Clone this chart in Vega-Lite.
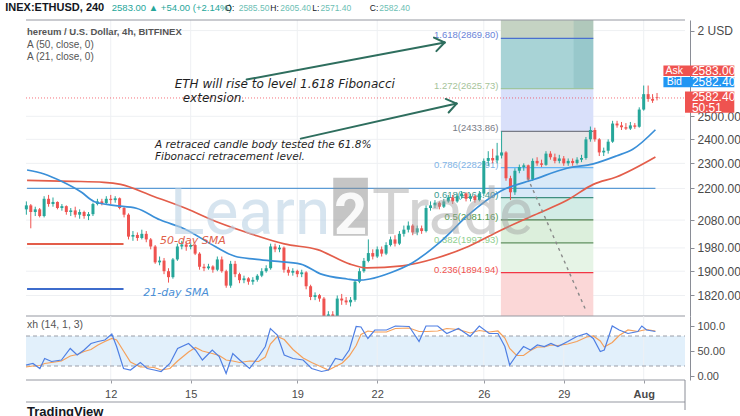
{
"$schema":"https://vega.github.io/schema/vega-lite/v6.json",
"width":740,"height":416,"autosize":{"type":"none"},"padding":0,"background":"#ffffff",
"config":{"view":{"stroke":null},"font":"Liberation Sans","text":{"font":"Liberation Sans"}},
"datasets":{
"candles":[
{"d":8.833,"o":2120,"h":2150,"l":2100,"c":2135},{"d":9,"o":2135,"h":2140,"l":2050,"c":2110},{"d":9.167,"o":2110,"h":2130,"l":2095,"c":2120},{"d":9.333,"o":2120,"h":2125,"l":2090,"c":2095},{"d":9.5,"o":2095,"h":2170,"l":2090,"c":2160},{"d":9.667,"o":2160,"h":2175,"l":2130,"c":2140},{"d":9.833,"o":2140,"h":2165,"l":2130,"c":2148},{"d":10,"o":2148,"h":2150,"l":2120,"c":2125},{"d":10.167,"o":2125,"h":2140,"l":2115,"c":2132},{"d":10.333,"o":2132,"h":2135,"l":2100,"c":2110},{"d":10.5,"o":2110,"h":2125,"l":2095,"c":2116},{"d":10.667,"o":2116,"h":2130,"l":2090,"c":2100},{"d":10.833,"o":2100,"h":2120,"l":2085,"c":2110},{"d":11,"o":2110,"h":2115,"l":2085,"c":2095},{"d":11.167,"o":2095,"h":2110,"l":2080,"c":2102},{"d":11.333,"o":2102,"h":2145,"l":2095,"c":2140},{"d":11.5,"o":2140,"h":2160,"l":2135,"c":2150},{"d":11.667,"o":2150,"h":2160,"l":2135,"c":2144},{"d":11.833,"o":2144,"h":2170,"l":2140,"c":2160},{"d":12,"o":2160,"h":2175,"l":2140,"c":2155},{"d":12.167,"o":2155,"h":2170,"l":2145,"c":2162},{"d":12.333,"o":2162,"h":2165,"l":2120,"c":2125},{"d":12.5,"o":2125,"h":2130,"l":2090,"c":2100},{"d":12.667,"o":2100,"h":2105,"l":2010,"c":2020},{"d":12.833,"o":2020,"h":2040,"l":2005,"c":2026},{"d":13,"o":2026,"h":2035,"l":2005,"c":2015},{"d":13.167,"o":2015,"h":2045,"l":2010,"c":2030},{"d":13.333,"o":2030,"h":2040,"l":2000,"c":2010},{"d":13.5,"o":2010,"h":2015,"l":1975,"c":1985},{"d":13.667,"o":1985,"h":1990,"l":1925,"c":1930},{"d":13.833,"o":1930,"h":1950,"l":1920,"c":1936},{"d":14,"o":1936,"h":1945,"l":1890,"c":1900},{"d":14.167,"o":1900,"h":1910,"l":1862,"c":1880},{"d":14.333,"o":1880,"h":1945,"l":1875,"c":1940},{"d":14.5,"o":1940,"h":1995,"l":1935,"c":1985},{"d":14.667,"o":1985,"h":2005,"l":1975,"c":1992},{"d":14.833,"o":1992,"h":2000,"l":1970,"c":1984},{"d":15,"o":1984,"h":2000,"l":1975,"c":1990},{"d":15.167,"o":1990,"h":1995,"l":1955,"c":1960},{"d":15.333,"o":1960,"h":1965,"l":1905,"c":1915},{"d":15.5,"o":1915,"h":1925,"l":1900,"c":1910},{"d":15.667,"o":1910,"h":1925,"l":1905,"c":1916},{"d":15.833,"o":1916,"h":1920,"l":1895,"c":1905},{"d":16,"o":1905,"h":1950,"l":1900,"c":1940},{"d":16.167,"o":1940,"h":1950,"l":1895,"c":1900},{"d":16.333,"o":1900,"h":1905,"l":1845,"c":1852},{"d":16.5,"o":1852,"h":1935,"l":1845,"c":1925},{"d":16.667,"o":1925,"h":1935,"l":1880,"c":1890},{"d":16.833,"o":1890,"h":1895,"l":1860,"c":1870},{"d":17,"o":1870,"h":1885,"l":1860,"c":1876},{"d":17.167,"o":1876,"h":1880,"l":1855,"c":1865},{"d":17.333,"o":1865,"h":1880,"l":1855,"c":1871},{"d":17.5,"o":1871,"h":1890,"l":1865,"c":1885},{"d":17.667,"o":1885,"h":1910,"l":1880,"c":1900},{"d":17.833,"o":1900,"h":1920,"l":1895,"c":1910},{"d":18,"o":1910,"h":1995,"l":1905,"c":1985},{"d":18.167,"o":1985,"h":1995,"l":1965,"c":1975},{"d":18.333,"o":1975,"h":1990,"l":1965,"c":1981},{"d":18.5,"o":1981,"h":1985,"l":1895,"c":1905},{"d":18.667,"o":1905,"h":1915,"l":1885,"c":1895},{"d":18.833,"o":1895,"h":1910,"l":1885,"c":1901},{"d":19,"o":1901,"h":1905,"l":1880,"c":1890},{"d":19.167,"o":1890,"h":1905,"l":1880,"c":1896},{"d":19.333,"o":1896,"h":1900,"l":1840,"c":1850},{"d":19.5,"o":1850,"h":1855,"l":1805,"c":1815},{"d":19.667,"o":1815,"h":1830,"l":1805,"c":1821},{"d":19.833,"o":1821,"h":1825,"l":1800,"c":1810},{"d":20,"o":1810,"h":1815,"l":1720,"c":1745},{"d":20.167,"o":1745,"h":1770,"l":1730,"c":1760},{"d":20.333,"o":1760,"h":1770,"l":1740,"c":1754},{"d":20.5,"o":1754,"h":1820,"l":1750,"c":1810},{"d":20.667,"o":1810,"h":1825,"l":1790,"c":1804},{"d":20.833,"o":1804,"h":1815,"l":1790,"c":1798},{"d":21,"o":1798,"h":1815,"l":1785,"c":1806},{"d":21.167,"o":1806,"h":1870,"l":1800,"c":1865},{"d":21.333,"o":1865,"h":1910,"l":1860,"c":1900},{"d":21.5,"o":1900,"h":1945,"l":1895,"c":1935},{"d":21.667,"o":1935,"h":2010,"l":1930,"c":1962},{"d":21.833,"o":1962,"h":1975,"l":1940,"c":1950},{"d":22,"o":1950,"h":1985,"l":1945,"c":1975},{"d":22.167,"o":1975,"h":1985,"l":1950,"c":1960},{"d":22.333,"o":1960,"h":2000,"l":1955,"c":1990},{"d":22.5,"o":1990,"h":2020,"l":1985,"c":2010},{"d":22.667,"o":2010,"h":2025,"l":1985,"c":1995},{"d":22.833,"o":1995,"h":2040,"l":1990,"c":2030},{"d":23,"o":2030,"h":2060,"l":2020,"c":2045},{"d":23.167,"o":2045,"h":2075,"l":2035,"c":2060},{"d":23.333,"o":2060,"h":2065,"l":2025,"c":2035},{"d":23.5,"o":2035,"h":2060,"l":2025,"c":2050},{"d":23.667,"o":2050,"h":2060,"l":2030,"c":2040},{"d":23.833,"o":2040,"h":2135,"l":2035,"c":2125},{"d":24,"o":2125,"h":2150,"l":2115,"c":2135},{"d":24.167,"o":2135,"h":2155,"l":2125,"c":2145},{"d":24.333,"o":2145,"h":2150,"l":2120,"c":2130},{"d":24.5,"o":2130,"h":2160,"l":2125,"c":2150},{"d":24.667,"o":2150,"h":2175,"l":2145,"c":2165},{"d":24.833,"o":2165,"h":2175,"l":2140,"c":2150},{"d":25,"o":2150,"h":2180,"l":2145,"c":2170},{"d":25.167,"o":2170,"h":2190,"l":2160,"c":2180},{"d":25.333,"o":2180,"h":2185,"l":2150,"c":2160},{"d":25.5,"o":2160,"h":2180,"l":2150,"c":2170},{"d":25.667,"o":2170,"h":2175,"l":2145,"c":2155},{"d":25.833,"o":2155,"h":2190,"l":2150,"c":2180},{"d":26,"o":2180,"h":2320,"l":2170,"c":2310},{"d":26.167,"o":2310,"h":2350,"l":2290,"c":2322},{"d":26.333,"o":2322,"h":2360,"l":2300,"c":2312},{"d":26.5,"o":2312,"h":2385,"l":2300,"c":2332},{"d":26.667,"o":2332,"h":2434,"l":2320,"c":2345},{"d":26.833,"o":2345,"h":2350,"l":2230,"c":2240},{"d":27,"o":2240,"h":2250,"l":2155,"c":2185},{"d":27.167,"o":2185,"h":2280,"l":2175,"c":2270},{"d":27.333,"o":2270,"h":2295,"l":2260,"c":2285},{"d":27.5,"o":2285,"h":2300,"l":2270,"c":2292},{"d":27.667,"o":2292,"h":2295,"l":2225,"c":2235},{"d":27.833,"o":2235,"h":2320,"l":2230,"c":2310},{"d":28,"o":2310,"h":2325,"l":2290,"c":2300},{"d":28.167,"o":2300,"h":2315,"l":2285,"c":2294},{"d":28.333,"o":2294,"h":2350,"l":2290,"c":2340},{"d":28.5,"o":2340,"h":2350,"l":2315,"c":2325},{"d":28.667,"o":2325,"h":2340,"l":2300,"c":2310},{"d":28.833,"o":2310,"h":2335,"l":2300,"c":2320},{"d":29,"o":2320,"h":2330,"l":2290,"c":2300},{"d":29.167,"o":2300,"h":2320,"l":2290,"c":2310},{"d":29.333,"o":2310,"h":2320,"l":2290,"c":2301},{"d":29.5,"o":2301,"h":2325,"l":2295,"c":2315},{"d":29.667,"o":2315,"h":2335,"l":2305,"c":2322},{"d":29.833,"o":2322,"h":2410,"l":2315,"c":2400},{"d":30,"o":2400,"h":2455,"l":2390,"c":2440},{"d":30.167,"o":2440,"h":2450,"l":2390,"c":2400},{"d":30.333,"o":2400,"h":2405,"l":2330,"c":2345},{"d":30.5,"o":2345,"h":2365,"l":2330,"c":2352},{"d":30.667,"o":2352,"h":2400,"l":2340,"c":2390},{"d":30.833,"o":2390,"h":2480,"l":2385,"c":2468},{"d":31,"o":2468,"h":2480,"l":2450,"c":2460},{"d":31.167,"o":2460,"h":2475,"l":2440,"c":2452},{"d":31.333,"o":2452,"h":2470,"l":2440,"c":2446},{"d":31.5,"o":2446,"h":2475,"l":2440,"c":2460},{"d":31.667,"o":2460,"h":2470,"l":2445,"c":2454},{"d":31.833,"o":2454,"h":2540,"l":2450,"c":2530},{"d":32,"o":2530,"h":2640,"l":2525,"c":2600},{"d":32.167,"o":2600,"h":2640,"l":2565,"c":2578},{"d":32.333,"o":2578,"h":2600,"l":2560,"c":2570},{"d":32.5,"o":2585.5,"h":2605.4,"l":2571.4,"c":2582.4}
],
"sma21":[{"d":8.86,"v":2273},{"d":9.5,"v":2257},{"d":10.15,"v":2228},{"d":10.89,"v":2186},{"d":11.37,"v":2150},{"d":12.11,"v":2135},{"d":12.96,"v":2124},{"d":13.85,"v":2081},{"d":14.81,"v":2046},{"d":15.92,"v":1985},{"d":16.66,"v":1951},{"d":17.4,"v":1941},{"d":18.14,"v":1934},{"d":19.13,"v":1924},{"d":19.87,"v":1891},{"d":20.87,"v":1874},{"d":21.3,"v":1870},{"d":21.72,"v":1874},{"d":22.5,"v":1895},{"d":23.31,"v":1928},{"d":24.42,"v":2006},{"d":25.42,"v":2099},{"d":26.64,"v":2190},{"d":27.9,"v":2236},{"d":29.12,"v":2280},{"d":30.11,"v":2298},{"d":30.97,"v":2330},{"d":31.59,"v":2358},{"d":32.44,"v":2441}],
"sma50":[{"d":8.86,"v":2232},{"d":10.52,"v":2228},{"d":11.74,"v":2224},{"d":12.37,"v":2216},{"d":13.59,"v":2170},{"d":14.81,"v":2124},{"d":16.07,"v":2070},{"d":17.29,"v":2029},{"d":18.51,"v":1994},{"d":19.76,"v":1974},{"d":20.98,"v":1924},{"d":21.61,"v":1911},{"d":22.94,"v":1918},{"d":24.2,"v":1944},{"d":25.42,"v":1985},{"d":26.64,"v":2043},{"d":27.9,"v":2099},{"d":29.12,"v":2154},{"d":30.11,"v":2216},{"d":30.97,"v":2245},{"d":32.44,"v":2326}],
"stoch":[{"d":8.82,"k":22,"dv":18},{"d":9.08,"k":25,"dv":20},{"d":9.34,"k":15,"dv":21},{"d":9.52,"k":35,"dv":25},{"d":9.78,"k":29,"dv":27},{"d":10.15,"k":32,"dv":30},{"d":10.48,"k":55,"dv":40},{"d":10.74,"k":42,"dv":43},{"d":11,"k":52,"dv":49},{"d":11.26,"k":65,"dv":53},{"d":11.52,"k":69,"dv":62},{"d":11.78,"k":72,"dv":69},{"d":12.04,"k":84,"dv":75},{"d":12.22,"k":59,"dv":72},{"d":12.48,"k":15,"dv":50},{"d":12.74,"k":12,"dv":28},{"d":13.11,"k":27,"dv":18},{"d":13.37,"k":15,"dv":18},{"d":13.63,"k":12,"dv":17},{"d":13.89,"k":9,"dv":12},{"d":14.22,"k":25,"dv":15},{"d":14.51,"k":55,"dv":30},{"d":14.92,"k":65,"dv":48},{"d":15.18,"k":52,"dv":57},{"d":15.44,"k":32,"dv":50},{"d":15.81,"k":52,"dv":45},{"d":16.07,"k":39,"dv":41},{"d":16.33,"k":5,"dv":32},{"d":16.58,"k":45,"dv":30},{"d":16.84,"k":32,"dv":27},{"d":17.21,"k":15,"dv":30},{"d":17.55,"k":39,"dv":29},{"d":17.8,"k":59,"dv":38},{"d":17.99,"k":95,"dv":64},{"d":18.25,"k":82,"dv":79},{"d":18.51,"k":42,"dv":73},{"d":18.84,"k":35,"dv":53},{"d":19.22,"k":32,"dv":36},{"d":19.54,"k":15,"dv":27},{"d":19.91,"k":9,"dv":18},{"d":20.17,"k":12,"dv":12},{"d":20.43,"k":35,"dv":19},{"d":20.69,"k":32,"dv":26},{"d":20.95,"k":52,"dv":40},{"d":21.21,"k":99,"dv":61},{"d":21.39,"k":98,"dv":83},{"d":21.65,"k":75,"dv":90},{"d":21.91,"k":92,"dv":88},{"d":22.35,"k":92,"dv":88},{"d":22.68,"k":100,"dv":95},{"d":23.2,"k":99,"dv":96},{"d":23.57,"k":69,"dv":89},{"d":23.83,"k":100,"dv":89},{"d":24.27,"k":100,"dv":90},{"d":24.61,"k":85,"dv":95},{"d":25.05,"k":95,"dv":93},{"d":25.49,"k":79,"dv":86},{"d":25.83,"k":100,"dv":91},{"d":26.2,"k":85,"dv":88},{"d":26.53,"k":85,"dv":90},{"d":26.79,"k":59,"dv":76},{"d":26.97,"k":22,"dv":55},{"d":27.23,"k":42,"dv":41},{"d":27.49,"k":59,"dv":41},{"d":27.75,"k":52,"dv":51},{"d":28.01,"k":62,"dv":58},{"d":28.27,"k":59,"dv":58},{"d":28.52,"k":65,"dv":62},{"d":28.78,"k":59,"dv":61},{"d":29.15,"k":69,"dv":64},{"d":29.49,"k":79,"dv":69},{"d":29.86,"k":85,"dv":78},{"d":30.11,"k":75,"dv":80},{"d":30.37,"k":49,"dv":70},{"d":30.52,"k":52,"dv":58},{"d":30.82,"k":100,"dv":67},{"d":31.08,"k":92,"dv":81},{"d":31.41,"k":85,"dv":92},{"d":31.78,"k":89,"dv":89},{"d":31.93,"k":100,"dv":91},{"d":32.11,"k":92,"dv":93},{"d":32.44,"k":89,"dv":90}],
"fibz":[{"z":"0","lo":1728.47,"hi":1894.94},{"z":"0.236","lo":1894.94,"hi":1997.93},{"z":"0.382","lo":1997.93,"hi":2081.16},{"z":"0.5","lo":2081.16,"hi":2164.4},{"z":"0.618","lo":2164.4,"hi":2282.91},{"z":"0.786","lo":2282.91,"hi":2433.86},{"z":"1","lo":2433.86,"hi":2625.73},{"z":"1.272","lo":2625.73,"hi":2869.8},{"z":"1.618","lo":2869.8,"hi":3575.18}],
"fibl":[{"lvl":"0.236","v":1894.94,"lab":"0.236(1894.94)"},{"lvl":"0.382","v":1997.93,"lab":"0.382(1997.93)"},{"lvl":"0.5","v":2081.16,"lab":"0.5(2081.16)"},{"lvl":"0.618","v":2164.4,"lab":"0.618(2164.40)"},{"lvl":"0.786","v":2282.91,"lab":"0.786(2282.91)"},{"lvl":"1","v":2433.86,"lab":"1(2433.86)"},{"lvl":"1.272","v":2625.73,"lab":"1.272(2625.73)"},{"lvl":"1.618","v":2869.8,"lab":"1.618(2869.80)"}],
"pticks":[{"v":1820},{"v":1900},{"v":1980},{"v":2080},{"v":2200},{"v":2300},{"v":2400},{"v":2500},{"v":2910}],
"dticks":[{"day":12},{"day":15},{"day":19},{"day":22},{"day":26},{"day":29},{"day":32}]
},
"layer":[
{"layer":[
 {"data":{"name":"pticks"},"mark":{"type":"rule","stroke":"#eef0f3","strokeWidth":1},
  "encoding":{"y":{"field":"v","type":"quantitative","title":null,"scale":{"type":"log","domain":[1755,2965],"range":[316,20],"nice":false,"clamp":true},
   "axis":{"orient":"right","offset":-50,"values":[1820,1900,1980,2080,2200,2300,2400,2500,2910],"labelExpr":"datum.value > 2800 ? '2 USD' : format(datum.value, '.2f')","grid":false,"domain":true,"domainColor":"#8a8d96","tickColor":"#8a8d96","tickSize":4,"labelColor":"#4a4a4a","labelFontSize":12,"labelPadding":3,"labelOverlap":false,"labelFlush":false,"labelBound":false,"title":null}},
   "x":{"datum":8.82,"type":"quantitative","scale":{"type":"linear","domain":[8.82,33.55],"range":[21,690],"nice":false,"zero":false}},"x2":{"datum":33.55}}},
 {"data":{"name":"dticks"},"mark":{"type":"rule","stroke":"#eef0f3","strokeWidth":1},
  "encoding":{"x":{"field":"day","type":"quantitative","title":null,"scale":{"type":"linear","domain":[8.82,33.55],"range":[21,690],"nice":false,"zero":false},
   "axis":{"orient":"bottom","offset":-36,"values":[12,15,19,22,26,29,32],"labelExpr":"datum.value == 32 ? 'Aug' : datum.label","labelFontWeight":{"condition":{"test":"datum.value == 32","value":"bold"},"value":"normal"},"grid":false,"domain":false,"tickSize":3,"tickColor":"#9a9ca3","labelColor":"#4a4a4a","labelFontSize":11,"labelPadding":5,"labelFlush":false,"labelOverlap":false,"title":null}},
   "y":{"datum":1755,"type":"quantitative","scale":{"type":"log","domain":[1755,2965],"range":[316,20],"nice":false,"clamp":true}},"y2":{"datum":2965}}},
 {"data":{"name":"fibz"},"mark":{"type":"rect"},
  "encoding":{"x":{"datum":26.64,"type":"quantitative","scale":{"type":"linear","domain":[8.82,33.55],"range":[21,690],"nice":false,"zero":false}},"x2":{"datum":30.11},
   "y":{"field":"lo","type":"quantitative","title":null,"scale":{"type":"log","domain":[1755,2965],"range":[316,20],"nice":false,"clamp":true}},"y2":{"field":"hi"},
   "fill":{"field":"z","type":"nominal","legend":null,"scale":{"domain":["0","0.236","0.382","0.5","0.618","0.786","1","1.272","1.618"],"range":["#fbd7d7","#e6f4e6","#dcefdc","#d2ece6","#d8e9f8","#e7e7e9","#d9e0fa","#a8d3d6","#c5d3c3"]}}}},
 {"data":{"values":[{"d1":29.37,"d2":30.11,"p1":2625.73,"p2":3575.18}]},"mark":{"type":"rect","fill":"#3f8a90","opacity":0.15},
  "encoding":{"x":{"field":"d1","type":"quantitative","title":null,"scale":{"type":"linear","domain":[8.82,33.55],"range":[21,690],"nice":false,"zero":false}},"x2":{"field":"d2"},
   "y":{"field":"p1","type":"quantitative","title":null,"scale":{"type":"log","domain":[1755,2965],"range":[316,20],"nice":false,"clamp":true}},"y2":{"field":"p2"}}},
 {"data":{"values":[{"d1":8.86,"d2":32.44,"p":2200}]},"mark":{"type":"rule","stroke":"#5b9bd5","strokeWidth":1.2},
  "encoding":{"x":{"field":"d1","type":"quantitative","title":null,"scale":{"type":"linear","domain":[8.82,33.55],"range":[21,690],"nice":false,"zero":false}},"x2":{"field":"d2"},
   "y":{"field":"p","type":"quantitative","title":null,"scale":{"type":"log","domain":[1755,2965],"range":[316,20],"nice":false,"clamp":true}}}},
 {"data":{"values":[{"d1":8.82,"d2":33.55,"p":2582.4}]},"mark":{"type":"rule","stroke":"#f23645","strokeWidth":1,"strokeDash":[1,2],"opacity":0.7},
  "encoding":{"x":{"field":"d1","type":"quantitative","title":null,"scale":{"type":"linear","domain":[8.82,33.55],"range":[21,690],"nice":false,"zero":false}},"x2":{"field":"d2"},
   "y":{"field":"p","type":"quantitative","title":null,"scale":{"type":"log","domain":[1755,2965],"range":[316,20],"nice":false,"clamp":true}}}},
 {"data":{"name":"fibl"},"mark":{"type":"rule","strokeWidth":1.2},
  "encoding":{"x":{"datum":26.64,"type":"quantitative","scale":{"type":"linear","domain":[8.82,33.55],"range":[21,690],"nice":false,"zero":false}},"x2":{"datum":30.11},
   "y":{"field":"v","type":"quantitative","title":null,"scale":{"type":"log","domain":[1755,2965],"range":[316,20],"nice":false,"clamp":true}},
   "stroke":{"field":"lvl","type":"nominal","legend":null,"scale":{"domain":["0.236","0.382","0.5","0.618","0.786","1","1.272","1.618"],"range":["#f23645","#5f8f5f","#4f7f4f","#3f8f80","#64b5f6","#787b86","#9fc59f","#4a6fd0"]}}}},
 {"data":{"name":"fibl"},"mark":{"type":"text","align":"right","baseline":"middle","dy":-3,"fontSize":9.5},
  "encoding":{"x":{"datum":26.55,"type":"quantitative","scale":{"type":"linear","domain":[8.82,33.55],"range":[21,690],"nice":false,"zero":false}},
   "y":{"field":"v","type":"quantitative","title":null,"scale":{"type":"log","domain":[1755,2965],"range":[316,20],"nice":false,"clamp":true}},
   "text":{"field":"lab"},
   "color":{"field":"lvl","type":"nominal","legend":null,"scale":{"domain":["0.236","0.382","0.5","0.618","0.786","1","1.272","1.618"],"range":["#ef5350","#8fcf8f","#4f9a4a","#3c9b8f","#7fb4e6","#787b86","#a6c49a","#6a84d8"]}}}},
 {"data":{"name":"candles"},"mark":{"type":"rule","strokeWidth":1},
  "encoding":{"x":{"field":"d","type":"quantitative","title":null,"scale":{"type":"linear","domain":[8.82,33.55],"range":[21,690],"nice":false,"zero":false}},
   "y":{"field":"l","type":"quantitative","title":null,"scale":{"type":"log","domain":[1755,2965],"range":[316,20],"nice":false,"clamp":true}},"y2":{"field":"h"},
   "color":{"condition":{"test":"datum.c >= datum.o","value":"#26a69a"},"value":"#ef5350"}}},
 {"data":{"name":"candles"},"mark":{"type":"bar","width":3},
  "encoding":{"x":{"field":"d","type":"quantitative","title":null,"scale":{"type":"linear","domain":[8.82,33.55],"range":[21,690],"nice":false,"zero":false}},
   "y":{"field":"o","type":"quantitative","title":null,"scale":{"type":"log","domain":[1755,2965],"range":[316,20],"nice":false,"clamp":true}},"y2":{"field":"c"},
   "color":{"condition":{"test":"datum.c >= datum.o","value":"#26a69a"},"value":"#ef5350"}}},
 {"data":{"name":"sma50"},"mark":{"type":"line","stroke":"#e35d4a","strokeWidth":1.7,"interpolate":"monotone"},
  "encoding":{"x":{"field":"d","type":"quantitative","title":null,"scale":{"type":"linear","domain":[8.82,33.55],"range":[21,690],"nice":false,"zero":false}},
   "y":{"field":"v","type":"quantitative","title":null,"scale":{"type":"log","domain":[1755,2965],"range":[316,20],"nice":false,"clamp":true}}}},
 {"data":{"name":"sma21"},"mark":{"type":"line","stroke":"#3a8fd8","strokeWidth":1.7,"interpolate":"monotone"},
  "encoding":{"x":{"field":"d","type":"quantitative","title":null,"scale":{"type":"linear","domain":[8.82,33.55],"range":[21,690],"nice":false,"zero":false}},
   "y":{"field":"v","type":"quantitative","title":null,"scale":{"type":"log","domain":[1755,2965],"range":[316,20],"nice":false,"clamp":true}}}},
 {"data":{"values":[{"d1":27.64,"d2":29.85,"p1":2243,"p2":1769}]},"mark":{"type":"rule","stroke":"#8a8a8a","strokeWidth":1.4,"strokeDash":[3,4]},
  "encoding":{"x":{"field":"d1","type":"quantitative","title":null,"scale":{"type":"linear","domain":[8.82,33.55],"range":[21,690],"nice":false,"zero":false}},"x2":{"field":"d2"},
   "y":{"field":"p1","type":"quantitative","title":null,"scale":{"type":"log","domain":[1755,2965],"range":[316,20],"nice":false,"clamp":true}},"y2":{"field":"p2"}}},
 {"data":{"values":[{"p":2965},{"p":1755}]},"mark":{"type":"rule","stroke":"#9598a1","strokeWidth":1},
  "encoding":{"x":{"datum":8.82,"type":"quantitative","scale":{"type":"linear","domain":[8.82,33.55],"range":[21,690],"nice":false,"zero":false}},"x2":{"datum":33.55},
   "y":{"field":"p","type":"quantitative","title":null,"scale":{"type":"log","domain":[1755,2965],"range":[316,20],"nice":false,"clamp":true}}}}
]},
{"layer":[
 {"data":{"values":[{"d1":8.86,"d2":12.48,"p":1994}]},"mark":{"type":"rule","stroke":"#e35d4a","strokeWidth":2},
  "encoding":{"x":{"field":"d1","type":"quantitative","title":null,"scale":{"type":"linear","domain":[8.82,33.55],"range":[21,690],"nice":false,"zero":false}},"x2":{"field":"d2"},
   "y":{"field":"p","type":"quantitative","title":null,"axis":null,"scale":{"type":"log","domain":[1755,2965],"range":[316,20],"nice":false}}}},
 {"data":{"values":[{"d1":8.86,"d2":12.48,"p":1841}]},"mark":{"type":"rule","stroke":"#3d6ccc","strokeWidth":2},
  "encoding":{"x":{"field":"d1","type":"quantitative","title":null,"scale":{"type":"linear","domain":[8.82,33.55],"range":[21,690],"nice":false,"zero":false}},"x2":{"field":"d2"},
   "y":{"field":"p","type":"quantitative","title":null,"axis":null,"scale":{"type":"log","domain":[1755,2965],"range":[316,20],"nice":false}}}},
 {"data":{"values":[{"d":20.24,"p":2031,"t":"Learn"}]},"mark":{"type":"text","align":"right","baseline":"alphabetic","font":"Roboto","fontSize":64,"color":"#bcd3e6","opacity":0.6},
  "encoding":{"x":{"field":"d","type":"quantitative","title":null,"scale":{"type":"linear","domain":[8.82,33.55],"range":[21,690],"nice":false,"zero":false}},
   "y":{"field":"p","type":"quantitative","title":null,"axis":null,"scale":{"type":"log","domain":[1755,2965],"range":[316,20],"nice":false}},"text":{"field":"t"}}},
 {"data":{"values":[{"d1":20.35,"d2":21.65,"p1":2023,"p2":2242}]},"mark":{"type":"rect","fill":"#8c8c8c","opacity":0.5},
  "encoding":{"x":{"field":"d1","type":"quantitative","title":null,"scale":{"type":"linear","domain":[8.82,33.55],"range":[21,690],"nice":false,"zero":false}},"x2":{"field":"d2"},
   "y":{"field":"p1","type":"quantitative","title":null,"axis":null,"scale":{"type":"log","domain":[1755,2965],"range":[316,20],"nice":false}},"y2":{"field":"p2"}}},
 {"data":{"values":[{"d":21.0,"p":2031,"t":"2"}]},"mark":{"type":"text","align":"center","baseline":"alphabetic","font":"Roboto","fontSize":58,"fontWeight":"bold","color":"#ffffff","opacity":0.9},
  "encoding":{"x":{"field":"d","type":"quantitative","title":null,"scale":{"type":"linear","domain":[8.82,33.55],"range":[21,690],"nice":false,"zero":false}},
   "y":{"field":"p","type":"quantitative","title":null,"axis":null,"scale":{"type":"log","domain":[1755,2965],"range":[316,20],"nice":false}},"text":{"field":"t"}}},
 {"data":{"values":[{"d":21.8,"p":2031,"t":"Trade"}]},"mark":{"type":"text","align":"left","baseline":"alphabetic","font":"Roboto","fontSize":64,"color":"#a0a0a0","opacity":0.45},
  "encoding":{"x":{"field":"d","type":"quantitative","title":null,"scale":{"type":"linear","domain":[8.82,33.55],"range":[21,690],"nice":false,"zero":false}},
   "y":{"field":"p","type":"quantitative","title":null,"axis":null,"scale":{"type":"log","domain":[1755,2965],"range":[316,20],"nice":false}},"text":{"field":"t"}}},
 {"data":{"values":[{"d":8.04,"p":3031,"t":"INEX:ETHUSD, 240"}]},"mark":{"type":"text","align":"left","baseline":"middle","fontSize":11,"fontWeight":"bold","color":"#131722"},
  "encoding":{"x":{"field":"d","type":"quantitative","title":null,"scale":{"type":"linear","domain":[8.82,33.55],"range":[21,690],"nice":false,"zero":false}},
   "y":{"field":"p","type":"quantitative","title":null,"axis":null,"scale":{"type":"log","domain":[1755,2965],"range":[316,20],"nice":false}},"text":{"field":"t"}}},
 {"data":{"values":[{"d":12.04,"p":3031,"t":"2583.00 ▲ +54.00 (+2.14%)"}]},"mark":{"type":"text","align":"left","baseline":"middle","fontSize":9.5,"color":"#26a69a"},
  "encoding":{"x":{"field":"d","type":"quantitative","title":null,"scale":{"type":"linear","domain":[8.82,33.55],"range":[21,690],"nice":false,"zero":false}},
   "y":{"field":"p","type":"quantitative","title":null,"axis":null,"scale":{"type":"log","domain":[1755,2965],"range":[316,20],"nice":false}},"text":{"field":"t"}}},
 {"data":{"values":[{"d":16.3,"p":3031,"t":"O:"},{"d":17.99,"p":3031,"t":"H:"},{"d":19.56,"p":3031,"t":"L:"},{"d":21.72,"p":3031,"t":"C:"}]},"mark":{"type":"text","align":"left","baseline":"middle","fontSize":8.5,"color":"#131722"},
  "encoding":{"x":{"field":"d","type":"quantitative","title":null,"scale":{"type":"linear","domain":[8.82,33.55],"range":[21,690],"nice":false,"zero":false}},
   "y":{"field":"p","type":"quantitative","title":null,"axis":null,"scale":{"type":"log","domain":[1755,2965],"range":[316,20],"nice":false}},"text":{"field":"t"}}},
 {"data":{"values":[{"d":16.8,"p":3031,"t":"2585.50"},{"d":18.36,"p":3031,"t":"2605.40"},{"d":19.87,"p":3031,"t":"2571.40"},{"d":22.08,"p":3031,"t":"2582.40"}]},"mark":{"type":"text","align":"left","baseline":"middle","fontSize":8.5,"color":"#6cc0b4"},
  "encoding":{"x":{"field":"d","type":"quantitative","title":null,"scale":{"type":"linear","domain":[8.82,33.55],"range":[21,690],"nice":false,"zero":false}},
   "y":{"field":"p","type":"quantitative","title":null,"axis":null,"scale":{"type":"log","domain":[1755,2965],"range":[316,20],"nice":false}},"text":{"field":"t"}}},
 {"data":{"values":[{"d":8.86,"p":2905,"t":"hereum / U.S. Dollar, 4h, BITFINEX"}]},"mark":{"type":"text","align":"left","baseline":"middle","fontSize":9.5,"fontWeight":"bold","color":"#555555"},
  "encoding":{"x":{"field":"d","type":"quantitative","title":null,"scale":{"type":"linear","domain":[8.82,33.55],"range":[21,690],"nice":false,"zero":false}},
   "y":{"field":"p","type":"quantitative","title":null,"axis":null,"scale":{"type":"log","domain":[1755,2965],"range":[316,20],"nice":false}},"text":{"field":"t"}}},
 {"data":{"values":[{"d":8.86,"p":2839,"t":"A (50, close, 0)"},{"d":8.86,"p":2779,"t":"A (21, close, 0)"}]},"mark":{"type":"text","align":"left","baseline":"middle","fontSize":10,"color":"#555555"},
  "encoding":{"x":{"field":"d","type":"quantitative","title":null,"scale":{"type":"linear","domain":[8.82,33.55],"range":[21,690],"nice":false,"zero":false}},
   "y":{"field":"p","type":"quantitative","title":null,"axis":null,"scale":{"type":"log","domain":[1755,2965],"range":[316,20],"nice":false}},"text":{"field":"t"}}},
 {"data":{"values":[{"d":14.4,"p":2645,"t":"ETH will rise to level 1.618 Fibonacci"},{"d":14.7,"p":2584,"t":"extension."}]},"mark":{"type":"text","align":"left","baseline":"middle","font":"DejaVu Sans","fontStyle":"italic","fontSize":12,"color":"#1f1f1f"},
  "encoding":{"x":{"field":"d","type":"quantitative","title":null,"scale":{"type":"linear","domain":[8.82,33.55],"range":[21,690],"nice":false,"zero":false}},
   "y":{"field":"p","type":"quantitative","title":null,"axis":null,"scale":{"type":"log","domain":[1755,2965],"range":[316,20],"nice":false}},"text":{"field":"t"}}},
 {"data":{"values":[{"d":13.66,"p":2378,"t":"A retraced candle body tested the 61.8%"},{"d":13.66,"p":2328,"t":"Fibonacci retracement level."}]},"mark":{"type":"text","align":"left","baseline":"middle","font":"DejaVu Sans","fontStyle":"italic","fontSize":10.5,"color":"#1f1f1f"},
  "encoding":{"x":{"field":"d","type":"quantitative","title":null,"scale":{"type":"linear","domain":[8.82,33.55],"range":[21,690],"nice":false,"zero":false}},
   "y":{"field":"p","type":"quantitative","title":null,"axis":null,"scale":{"type":"log","domain":[1755,2965],"range":[316,20],"nice":false}},"text":{"field":"t"}}},
 {"data":{"values":[{"d":13.85,"p":2006,"t":"50-day SMA"}]},"mark":{"type":"text","align":"left","baseline":"middle","font":"DejaVu Sans","fontStyle":"italic","fontSize":11,"color":"#e0604a"},
  "encoding":{"x":{"field":"d","type":"quantitative","title":null,"scale":{"type":"linear","domain":[8.82,33.55],"range":[21,690],"nice":false,"zero":false}},
   "y":{"field":"p","type":"quantitative","title":null,"axis":null,"scale":{"type":"log","domain":[1755,2965],"range":[316,20],"nice":false}},"text":{"field":"t"}}},
 {"data":{"values":[{"d":13.22,"p":1829,"t":"21-day SMA"}]},"mark":{"type":"text","align":"left","baseline":"middle","font":"DejaVu Sans","fontStyle":"italic","fontSize":11,"color":"#4a8fd6"},
  "encoding":{"x":{"field":"d","type":"quantitative","title":null,"scale":{"type":"linear","domain":[8.82,33.55],"range":[21,690],"nice":false,"zero":false}},
   "y":{"field":"p","type":"quantitative","title":null,"axis":null,"scale":{"type":"log","domain":[1755,2965],"range":[316,20],"nice":false}},"text":{"field":"t"}}},
 {"data":{"values":[{"d1":17.1,"p1":2668,"d2":24.53,"p2":2849},{"d1":24.13,"p1":2874,"d2":24.53,"p2":2849},{"d1":24.22,"p1":2806,"d2":24.53,"p2":2849},{"d1":19.13,"p1":2403,"d2":24.98,"p2":2557},{"d1":24.57,"p1":2578,"d2":24.98,"p2":2557},{"d1":24.68,"p1":2517,"d2":24.98,"p2":2557}]},"mark":{"type":"rule","stroke":"#2e6e5e","strokeWidth":2,"strokeCap":"round"},
  "encoding":{"x":{"field":"d1","type":"quantitative","title":null,"scale":{"type":"linear","domain":[8.82,33.55],"range":[21,690],"nice":false,"zero":false}},"x2":{"field":"d2"},
   "y":{"field":"p1","type":"quantitative","title":null,"axis":null,"scale":{"type":"log","domain":[1755,2965],"range":[316,20],"nice":false}},"y2":{"field":"p2"}}},
 {"data":{"values":[{"d1":32.74,"d2":35.4,"p1":2685,"p2":2735},{"d1":33.55,"d2":35.4,"p1":2516,"p2":2612}]},"mark":{"type":"rect","fill":"#ef5350"},
  "encoding":{"x":{"field":"d1","type":"quantitative","title":null,"scale":{"type":"linear","domain":[8.82,33.55],"range":[21,690],"nice":false,"zero":false}},"x2":{"field":"d2"},
   "y":{"field":"p1","type":"quantitative","title":null,"axis":null,"scale":{"type":"log","domain":[1755,2965],"range":[316,20],"nice":false}},"y2":{"field":"p2"}}},
 {"data":{"values":[{"d1":32.74,"d2":35.4,"p1":2632,"p2":2680}]},"mark":{"type":"rect","fill":"#2196f3"},
  "encoding":{"x":{"field":"d1","type":"quantitative","title":null,"scale":{"type":"linear","domain":[8.82,33.55],"range":[21,690],"nice":false,"zero":false}},"x2":{"field":"d2"},
   "y":{"field":"p1","type":"quantitative","title":null,"axis":null,"scale":{"type":"log","domain":[1755,2965],"range":[316,20],"nice":false}},"y2":{"field":"p2"}}},
 {"data":{"values":[{"d":33.15,"p":2708,"t":"Ask"},{"d":33.15,"p":2655,"t":"Bid"}]},"mark":{"type":"text","align":"center","baseline":"middle","fontSize":10.5,"color":"#ffffff"},
  "encoding":{"x":{"field":"d","type":"quantitative","title":null,"scale":{"type":"linear","domain":[8.82,33.55],"range":[21,690],"nice":false,"zero":false}},
   "y":{"field":"p","type":"quantitative","title":null,"axis":null,"scale":{"type":"log","domain":[1755,2965],"range":[316,20],"nice":false}},"text":{"field":"t"}}},
 {"data":{"values":[{"d":33.81,"p":2708,"t":"2583.00"},{"d":33.81,"p":2655,"t":"2582.40"},{"d":33.81,"p":2586,"t":"2582.40"},{"d":33.81,"p":2537,"t":"50:51"}]},"mark":{"type":"text","align":"left","baseline":"middle","fontSize":12,"color":"#ffffff"},
  "encoding":{"x":{"field":"d","type":"quantitative","title":null,"scale":{"type":"linear","domain":[8.82,33.55],"range":[21,690],"nice":false,"zero":false}},
   "y":{"field":"p","type":"quantitative","title":null,"axis":null,"scale":{"type":"log","domain":[1755,2965],"range":[316,20],"nice":false}},"text":{"field":"t"}}}
]},
{"layer":[
 {"data":{"values":[{"lo":20,"hi":80}]},"mark":{"type":"rect","fill":"#e2f0fb"},
  "encoding":{"x":{"datum":8.82,"type":"quantitative","scale":{"type":"linear","domain":[8.82,33.55],"range":[21,690],"nice":false,"zero":false}},"x2":{"datum":33.55},
   "y":{"field":"lo","type":"quantitative","title":null,"scale":{"type":"linear","domain":[-8,120],"range":[380,316],"nice":false,"zero":false},
    "axis":{"orient":"right","offset":-50,"values":[0,50,100],"labelExpr":"datum.value == 100 ? '100.0' : format(datum.value, '.2f')","grid":false,"domain":true,"domainColor":"#8a8d96","tickColor":"#8a8d96","tickSize":4,"labelColor":"#4a4a4a","labelFontSize":11,"labelPadding":3,"labelOverlap":false,"labelFlush":false,"labelBound":false,"title":null}},
   "y2":{"field":"hi"}}},
 {"data":{"name":"dticks"},"mark":{"type":"rule","stroke":"#eef0f3","strokeWidth":1},
  "encoding":{"x":{"field":"day","type":"quantitative","title":null,"scale":{"type":"linear","domain":[8.82,33.55],"range":[21,690],"nice":false,"zero":false}},
   "y":{"datum":-8,"type":"quantitative","scale":{"type":"linear","domain":[-8,120],"range":[380,316],"nice":false,"zero":false}},"y2":{"datum":120}}},
 {"data":{"values":[{"s":20},{"s":80}]},"mark":{"type":"rule","stroke":"#9a9ea8","strokeWidth":1,"strokeDash":[4,3]},
  "encoding":{"x":{"datum":8.82,"type":"quantitative","scale":{"type":"linear","domain":[8.82,33.55],"range":[21,690],"nice":false,"zero":false}},"x2":{"datum":33.55},
   "y":{"field":"s","type":"quantitative","title":null,"scale":{"type":"linear","domain":[-8,120],"range":[380,316],"nice":false,"zero":false}}}},
 {"data":{"name":"stoch"},"mark":{"type":"line","stroke":"#f5a05a","strokeWidth":1.2},
  "encoding":{"x":{"field":"d","type":"quantitative","title":null,"scale":{"type":"linear","domain":[8.82,33.55],"range":[21,690],"nice":false,"zero":false}},
   "y":{"field":"dv","type":"quantitative","title":null,"scale":{"type":"linear","domain":[-8,120],"range":[380,316],"nice":false,"zero":false}}}},
 {"data":{"name":"stoch"},"mark":{"type":"line","stroke":"#4f7fe3","strokeWidth":1.2},
  "encoding":{"x":{"field":"d","type":"quantitative","title":null,"scale":{"type":"linear","domain":[8.82,33.55],"range":[21,690],"nice":false,"zero":false}},
   "y":{"field":"k","type":"quantitative","title":null,"scale":{"type":"linear","domain":[-8,120],"range":[380,316],"nice":false,"zero":false}}}},
 {"data":{"values":[{"d":8.86,"s":102,"t":"xh (14, 1, 3)"}]},"mark":{"type":"text","align":"left","baseline":"middle","fontSize":10.5,"color":"#555555"},
  "encoding":{"x":{"field":"d","type":"quantitative","title":null,"scale":{"type":"linear","domain":[8.82,33.55],"range":[21,690],"nice":false,"zero":false}},
   "y":{"field":"s","type":"quantitative","title":null,"scale":{"type":"linear","domain":[-8,120],"range":[380,316],"nice":false,"zero":false}},"text":{"field":"t"}}},
 {"data":{"values":[{"s":-8},{"s":-52}]},"mark":{"type":"rule","stroke":"#9598a1","strokeWidth":1},
  "encoding":{"x":{"datum":8.82,"type":"quantitative","scale":{"type":"linear","domain":[8.82,33.55],"range":[21,690],"nice":false,"zero":false}},"x2":{"datum":33.55},
   "y":{"field":"s","type":"quantitative","title":null,"scale":{"type":"linear","domain":[-8,120],"range":[380,316],"nice":false,"zero":false}}}},
 {"data":{"values":[{"s1":-8,"s2":-68}]},"mark":{"type":"rule","stroke":"#8a8d96","strokeWidth":1},
  "encoding":{"x":{"datum":33.55,"type":"quantitative","scale":{"type":"linear","domain":[8.82,33.55],"range":[21,690],"nice":false,"zero":false}},
   "y":{"field":"s1","type":"quantitative","title":null,"scale":{"type":"linear","domain":[-8,120],"range":[380,316],"nice":false,"zero":false}},"y2":{"field":"s2"}}},
 {"data":{"values":[{"d":8.86,"s":-60,"t":"TradingView"}]},"mark":{"type":"text","align":"left","baseline":"top","fontSize":13,"fontWeight":"bold","color":"#131722"},
  "encoding":{"x":{"field":"d","type":"quantitative","title":null,"scale":{"type":"linear","domain":[8.82,33.55],"range":[21,690],"nice":false,"zero":false}},
   "y":{"field":"s","type":"quantitative","title":null,"scale":{"type":"linear","domain":[-8,120],"range":[380,316],"nice":false,"zero":false}},"text":{"field":"t"}}}
]}
],
"resolve":{"scale":{"y":"independent"},"axis":{"y":"independent"}}
}
